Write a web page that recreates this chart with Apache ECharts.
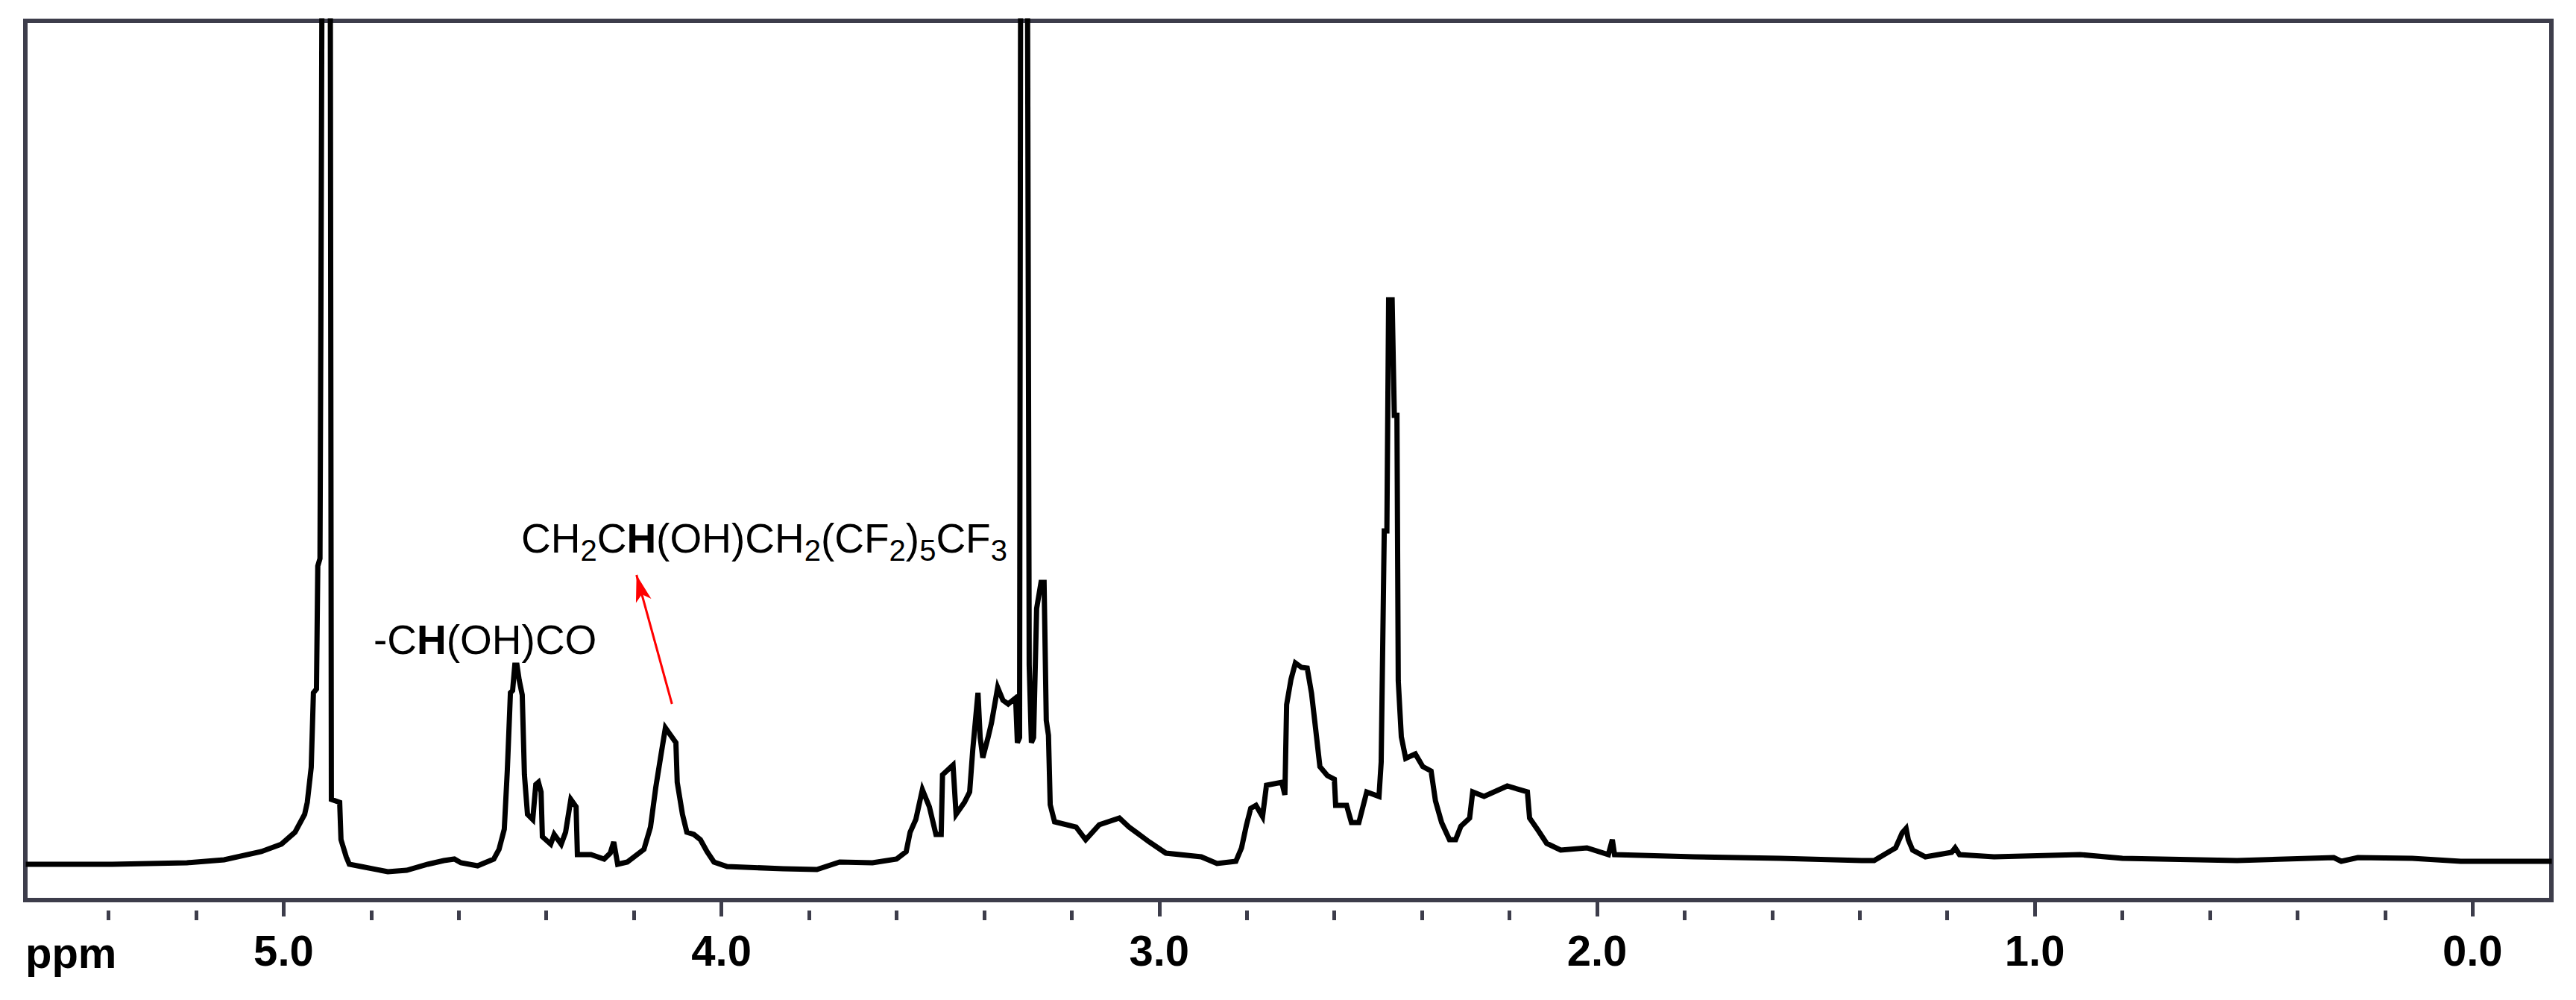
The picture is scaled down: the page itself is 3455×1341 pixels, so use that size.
<!DOCTYPE html>
<html>
<head>
<meta charset="utf-8">
<title>1H NMR spectrum</title>
<script src="https://cdn.jsdelivr.net/npm/echarts@6/dist/echarts.min.js"></script>
<style>
html, body { margin: 0; padding: 0; background: #fff; }
#chart { width: 3455px; height: 1341px; }
</style>
</head>
<body>
<div id="chart"></div>
<script>
// chemical shift (ppm) and intensity
var ppm = [5.589, 5.392, 5.221, 5.136, 5.051, 5.005, 4.974, 4.952, 4.946, 4.937,
    4.932, 4.925, 4.922, 4.917, 4.915, 4.911, 4.894, 4.891, 4.872, 4.869,
    4.857, 4.850, 4.823, 4.762, 4.719, 4.671, 4.634, 4.610, 4.595, 4.557,
    4.520, 4.508, 4.496, 4.489, 4.482, 4.477, 4.472, 4.467, 4.462, 4.455,
    4.450, 4.443, 4.431, 4.424, 4.418, 4.412, 4.409, 4.390, 4.382, 4.366,
    4.356, 4.344, 4.332, 4.329, 4.298, 4.268, 4.254, 4.246, 4.237, 4.215,
    4.177, 4.162, 4.150, 4.138, 4.128, 4.116, 4.104, 4.101, 4.089, 4.079,
    4.063, 4.048, 4.033, 4.017, 3.987, 3.859, 3.782, 3.730, 3.655, 3.600,
    3.578, 3.569, 3.556, 3.541, 3.525, 3.510, 3.498, 3.495, 3.471, 3.464,
    3.445, 3.433, 3.426, 3.414, 3.409, 3.403, 3.391, 3.383, 3.369, 3.357,
    3.345, 3.328, 3.324, 3.319, 3.316, 3.302, 3.297, 3.292, 3.287, 3.280,
    3.270, 3.263, 3.258, 3.253, 3.249, 3.239, 3.190, 3.168, 3.137, 3.091,
    3.069, 3.023, 2.985, 2.904, 2.868, 2.825, 2.812, 2.801, 2.791, 2.779,
    2.764, 2.755, 2.720, 2.713, 2.709, 2.699, 2.689, 2.675, 2.662, 2.652,
    2.643, 2.633, 2.616, 2.600, 2.597, 2.572, 2.561, 2.544, 2.526, 2.498,
    2.493, 2.486, 2.480, 2.476, 2.468, 2.463, 2.457, 2.454, 2.447, 2.437,
    2.415, 2.398, 2.379, 2.369, 2.355, 2.337, 2.323, 2.311, 2.291, 2.284,
    2.258, 2.205, 2.159, 2.154, 2.134, 2.115, 2.083, 2.023, 1.974, 1.965,
    1.960, 1.778, 1.582, 1.396, 1.367, 1.318, 1.303, 1.294, 1.289, 1.279,
    1.250, 1.190, 1.182, 1.172, 1.093, 0.897, 0.800, 0.538, 0.317, 0.300,
    0.262, 0.138, 0.027, -0.181];
var intensity = [48, 48, 50, 54, 65, 75, 91, 115, 131, 178,
    278, 283, 448, 458, 768, 1500, 1500, 135, 131, 81,
    58, 48, 45, 38, 40, 48, 53, 55, 50, 46,
    55, 68, 95, 175, 278, 281, 315, 315, 295, 275,
    168, 115, 108, 155, 158, 145, 85, 75, 88, 75,
    91, 135, 125, 61, 61, 55, 63, 78, 48, 51,
    68, 98, 151, 195, 231, 221, 211, 158, 115, 91,
    88, 81, 65, 51, 45, 42, 41, 51, 50, 55,
    65, 91, 108, 148, 125, 88, 88, 168, 181, 115,
    131, 145, 201, 278, 218, 191, 218, 238, 285, 268,
    263, 271, 211, 218, 1500, 1500, 315, 211, 218, 391,
    426, 426, 241, 221, 128, 105, 98, 81, 101, 110,
    98, 78, 63, 58, 49, 52, 70, 100, 123, 127,
    112, 154, 158, 141, 262, 296, 318, 312, 311, 277,
    231, 179, 167, 162, 127, 127, 104, 104, 145, 139,
    185, 495, 495, 805, 805, 650, 650, 294, 219, 190,
    196, 179, 173, 133, 104, 81, 81, 99, 110, 145,
    139, 153, 145, 110, 93, 76, 67, 70, 61, 81,
    61, 58, 56, 53, 53, 70, 90, 96, 81, 67,
    58, 64, 70, 61, 58, 61, 56, 53, 57, 52,
    57, 56, 52, 52];

var majorTicks = [0, 1, 2, 3, 4, 5];
var minorTicks = [0.2, 0.4, 0.6, 0.8, 1.2, 1.4, 1.6, 1.8, 2.2, 2.4, 2.6, 2.8,
    3.2, 3.4, 3.6, 3.8, 4.2, 4.4, 4.6, 4.8, 5.2, 5.4];

// red arrow: from the 4.1 ppm multiplet up towards its label
var arrowFrom = [4.113, 263];
var arrowTo = [4.194, 436];

var chart = echarts.init(document.getElementById('chart'), null, { renderer: 'svg' });

var spectrum = ppm.map(function (p, i) { return [p, intensity[i]]; });

var axisColor = '#3d3d4b';
var labelFont = "'Liberation Sans', Arial, sans-serif";

var option = {
    backgroundColor: '#ffffff',
    animation: false,
    grid: {
        left: 34,
        right: 33,
        top: 28,
        bottom: 134,
        show: true,
        borderColor: axisColor,
        borderWidth: 6,
        backgroundColor: '#ffffff'
    },
    xAxis: [
        {
            type: 'value',
            min: -0.18,
            max: 5.59,
            inverse: true,
            position: 'bottom',
            offset: 14,
            axisLine: { show: true, lineStyle: { color: axisColor, width: 5 } },
            axisTick: {
                show: true,
                customValues: majorTicks,
                length: 22,
                lineStyle: { color: axisColor, width: 5 }
            },
            axisLabel: {
                show: true,
                customValues: majorTicks,
                margin: 24,
                formatter: function (v) { return v.toFixed(1); },
                color: '#000',
                fontSize: 58,
                fontWeight: 'bold',
                fontFamily: labelFont
            },
            splitLine: { show: false }
        },
        {
            type: 'value',
            min: -0.18,
            max: 5.59,
            inverse: true,
            position: 'bottom',
            offset: 14,
            axisLine: { show: false },
            axisTick: {
                show: true,
                customValues: minorTicks,
                length: 13,
                lineStyle: { color: axisColor, width: 5 }
            },
            axisLabel: { show: false },
            splitLine: { show: false }
        }
    ],
    yAxis: {
        type: 'value',
        min: 0,
        max: 1179,
        show: false,
        splitLine: { show: false }
    },
    graphic: [
        {
            type: 'text',
            left: 34,
            top: 1248,
            style: {
                text: 'ppm',
                fill: '#000',
                font: "bold 58px 'Liberation Sans', Arial, sans-serif"
            }
        },
        {
            type: 'text',
            x: 501,
            y: 858,
            style: {
                text: '-C{b|H}(OH)CO',
                fill: '#000',
                font: "55px 'Liberation Sans', Arial, sans-serif",
                verticalAlign: 'middle',
                rich: {
                    b: { fontWeight: 'bold', fontSize: 55, fontFamily: labelFont }
                }
            }
        },
        {
            type: 'text',
            x: 699,
            y: 722,
            style: {
                text: 'CH{s|2}C{b|H}(OH)CH{s|2}(CF{s|2}){s|5}CF{s|3}',
                fill: '#000',
                font: "55px 'Liberation Sans', Arial, sans-serif",
                verticalAlign: 'middle',
                rich: {
                    b: { fontWeight: 'bold', fontSize: 55, fontFamily: labelFont },
                    s: { fontSize: 40, fontFamily: labelFont, padding: [32, 0, 0, 0] }
                }
            }
        }
    ],
    series: [
        {
            name: 'spectrum',
            type: 'line',
            data: spectrum,
            showSymbol: false,
            symbol: 'none',
            clip: true,
            lineStyle: { color: '#000000', width: 7, join: 'miter' },
            markLine: {
                silent: true,
                symbol: ['none', 'arrow'],
                symbolSize: [16, 36],
                label: { show: false },
                lineStyle: { color: '#ff0000', width: 3, type: 'solid' },
                data: [[{ coord: arrowFrom }, { coord: arrowTo }]]
            }
        }
    ]
};
chart.setOption(option);
</script>
</body>
</html>
